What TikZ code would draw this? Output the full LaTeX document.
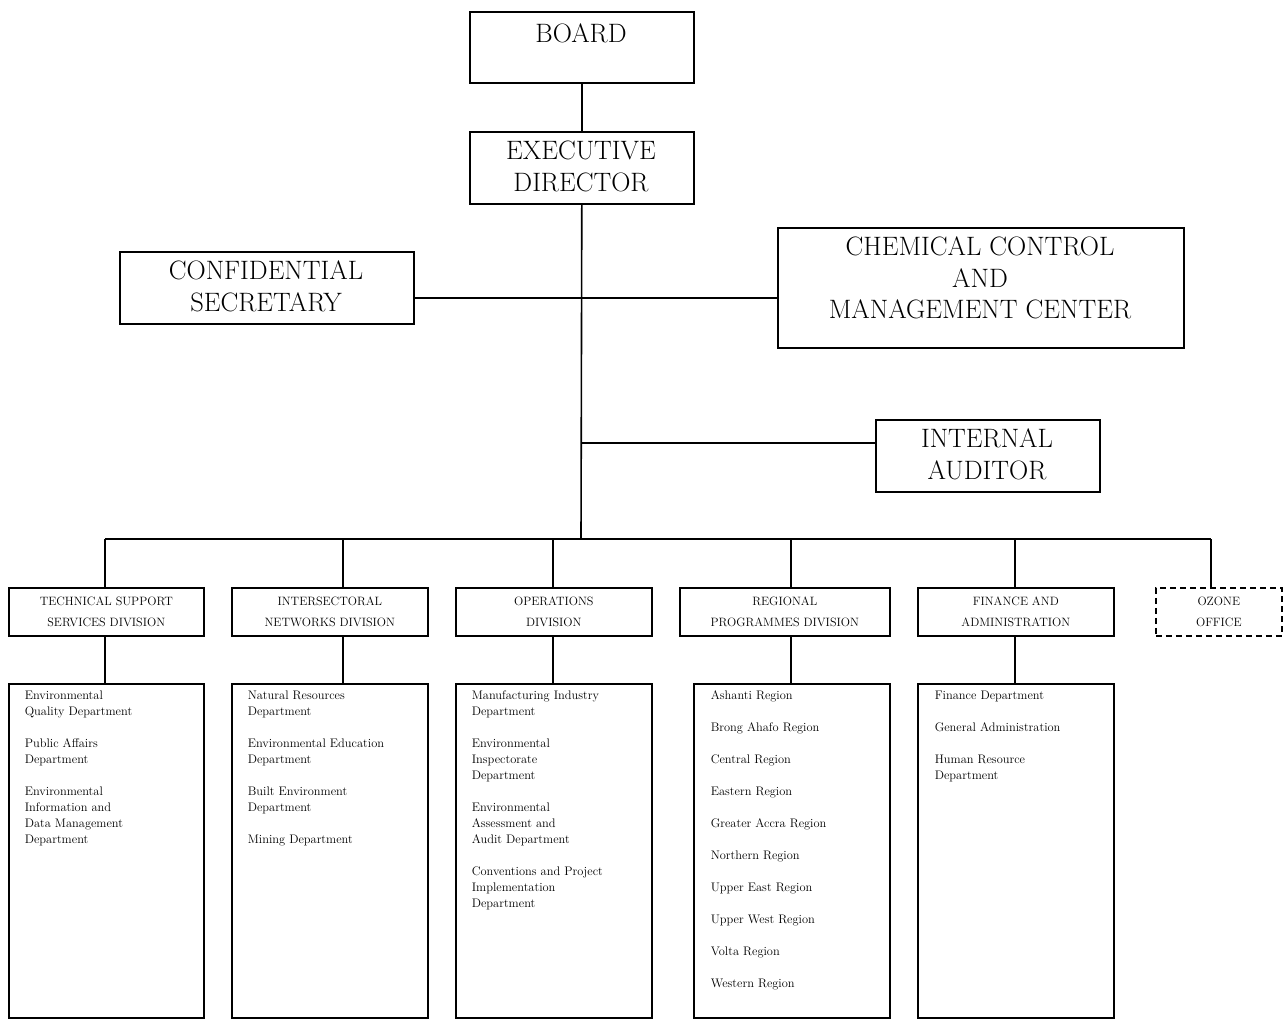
\documentclass[tikz,border=0pt]{standalone}
\begin{document}
\begin{tikzpicture}[x=1pt,y=-1pt,line width=1.6pt,
  box/.style={draw,rectangle,inner sep=0pt,anchor=north west},
  dbox/.style={box,dashed,dash pattern=on 6pt off 4pt},
  big/.style={font=\fontsize{26.6}{31.5}\selectfont,align=center,inner sep=0pt},
  divtxt/.style={font=\fontsize{12.1}{21}\selectfont,align=center,inner sep=0pt},
  dept/.style={font=\fontsize{12.4}{16}\selectfont,align=left,inner sep=0pt,anchor=north west},
  link/.style={line width=1.6pt}]
\useasboundingbox (0,0) rectangle (1287,1019);
% top boxes
\node[box,minimum width=224pt,minimum height=71pt] (board) at (469,11) {};
\node[box,minimum width=224pt,minimum height=72pt] (exec) at (469,131) {};
\node[box,minimum width=294pt,minimum height=72pt] (conf) at (119,251) {};
\node[box,minimum width=406pt,minimum height=120pt] (chem) at (777,227) {};
\node[box,minimum width=224pt,minimum height=72pt] (audit) at (875,419) {};
\node[big] (boardt) at (581,33) {BOARD};
\node[big] (exect) at (581,166.5) {EXECUTIVE\\DIRECTOR};
\node[big] (conft) at (266,286.5) {CONFIDENTIAL\\SECRETARY};
\node[big] (chemt) at (980,278) {CHEMICAL CONTROL\\AND\\MANAGEMENT CENTER};
\node[big] (auditt) at (987,454.5) {INTERNAL\\AUDITOR};
% division boxes
\node[box,minimum width=195pt,minimum height=48pt] (dtss) at (8,587) {};
\node[box,minimum width=196pt,minimum height=48pt] (dint) at (231,587) {};
\node[box,minimum width=196pt,minimum height=48pt] (dops) at (455,587) {};
\node[box,minimum width=210pt,minimum height=48pt] (dreg) at (679,587) {};
\node[box,minimum width=196pt,minimum height=48pt] (dfin) at (917,587) {};
\node[dbox,minimum width=126pt,minimum height=48pt] (doz) at (1155,587) {};
\node[divtxt] (dtsst) at (dtss.center) {TECHNICAL SUPPORT\\SERVICES DIVISION};
\node[divtxt] (dintt) at (dint.center) {INTERSECTORAL\\NETWORKS DIVISION};
\node[divtxt] (dopst) at (dops.center) {OPERATIONS\\DIVISION};
\node[divtxt] (dregt) at (dreg.center) {REGIONAL\\PROGRAMMES DIVISION};
\node[divtxt] (dfint) at (dfin.center) {FINANCE AND\\ADMINISTRATION};
\node[divtxt] (dozt) at (doz.center) {OZONE\\OFFICE};
% department boxes
\node[box,minimum width=195pt,minimum height=334pt] (ptss) at (8,683) {};
\node[box,minimum width=196pt,minimum height=334pt] (pint) at (231,683) {};
\node[box,minimum width=196pt,minimum height=334pt] (pops) at (455,683) {};
\node[box,minimum width=196pt,minimum height=334pt] (preg) at (693,683) {};
\node[box,minimum width=196pt,minimum height=334pt] (pfin) at (917,683) {};
\node[dept] (ptsst) at (24,690) {Environmental\\Quality Department\\[16pt]Public Affairs\\Department\\[16pt]Environmental\\Information and\\Data Management\\Department};
\node[dept] (pintt) at (247,690) {Natural Resources\\Department\\[16pt]Environmental Education\\Department\\[16pt]Built Environment\\Department\\[16pt]Mining Department};
\node[dept] (popst) at (471,690) {Manufacturing Industry\\Department\\[16pt]Environmental\\Inspectorate\\Department\\[16pt]Environmental\\Assessment and\\Audit Department\\[16pt]Conventions and Project\\Implementation\\Department};
\node[dept] (pregt) at (710,690) {Ashanti Region\\[16pt]Brong Ahafo Region\\[16pt]Central Region\\[16pt]Eastern Region\\[16pt]Greater Accra Region\\[16pt]Northern Region\\[16pt]Upper East Region\\[16pt]Upper West Region\\[16pt]Volta Region\\[16pt]Western Region};
\node[dept] (pfint) at (934,690) {Finance Department\\[16pt]General Administration\\[16pt]Human Resource\\Department};
% connectors
\coordinate (j1) at (581,298);
\coordinate (j2) at (581,443);
\coordinate (bus) at (581,539);
\coordinate (t1) at (105,539);
\coordinate (t2) at (343,539);
\coordinate (t3) at (553,539);
\coordinate (t4) at (791,539);
\coordinate (t5) at (1015,539);
\coordinate (t6) at (1211,539);
\draw[link] (board.south) -- (exec.north);
\draw[link] (exec.south) -- (bus);
\draw[link] (j1 -| conf.east) -- (j1 -| chem.west);
\draw[link] (j2) -- (j2 -| audit.west);
\draw[link] (t1) -- (t6);
\draw[link] (t1) -- (t1 |- dtss.north);
\draw[link] (t2) -- (t2 |- dint.north);
\draw[link] (t3) -- (t3 |- dops.north);
\draw[link] (t4) -- (t4 |- dreg.north);
\draw[link] (t5) -- (t5 |- dfin.north);
\draw[link] (t6) -- (t6 |- doz.north);
\draw[link] (t1 |- dtss.south) -- (t1 |- ptss.north);
\draw[link] (t2 |- dint.south) -- (t2 |- pint.north);
\draw[link] (t3 |- dops.south) -- (t3 |- pops.north);
\draw[link] (t4 |- dreg.south) -- (t4 |- preg.north);
\draw[link] (t5 |- dfin.south) -- (t5 |- pfin.north);
\end{tikzpicture}
\end{document}
